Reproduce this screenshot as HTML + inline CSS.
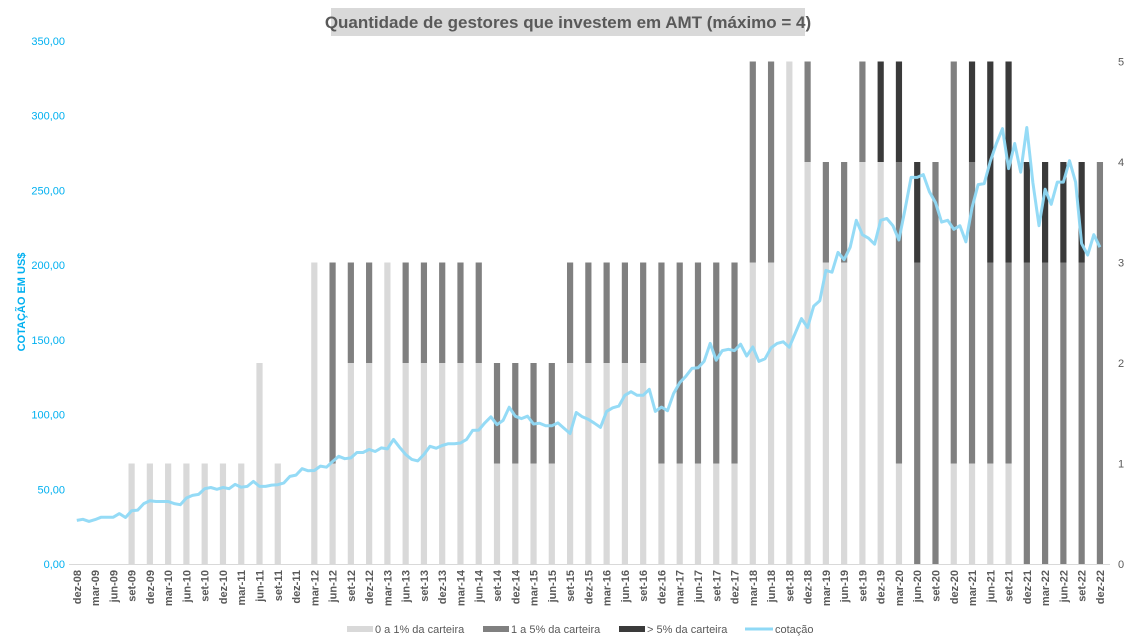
<!DOCTYPE html>
<html><head><meta charset="utf-8">
<style>
html,body{margin:0;padding:0;background:#fff;}
svg{display:block;font-family:"Liberation Sans",sans-serif;}
</style></head>
<body>
<svg id="chart" width="1138" height="643" viewBox="0 0 1138 643" xmlns="http://www.w3.org/2000/svg">
  <rect x="331" y="8" width="474" height="28" fill="#d9d9d9"/>
  <text x="568" y="28" text-anchor="middle" font-size="17" font-weight="bold" fill="#595959">Quantidade de gestores que investem em AMT (máximo = 4)</text>
  <text transform="translate(25,302) rotate(-90)" text-anchor="middle" font-size="11" font-weight="bold" fill="#00b0f0">COTAÇÃO EM US$</text>
  <g id="gridLayer"></g>
  <g id="barLayer"></g>
  <g id="lineLayer"></g>
  <g id="axisLayer"></g>
  <g id="legend">
    <rect x="347" y="626" width="26" height="6" fill="#d9d9d9"/>
    <text x="375" y="633" font-size="11" fill="#595959">0 a 1% da carteira</text>
    <rect x="483" y="626" width="26" height="6" fill="#808080"/>
    <text x="511" y="633" font-size="11" fill="#595959">1 a 5% da carteira</text>
    <rect x="619" y="626" width="26" height="6" fill="#3a3a3a"/>
    <text x="647" y="633" font-size="11" fill="#595959">&gt; 5% da carteira</text>
    <line x1="745" y1="629" x2="773" y2="629" stroke="#8fd9f6" stroke-width="3"/>
    <text x="775" y="633" font-size="11" fill="#595959">cotação</text>
  </g>
</svg>
<script>
const quarters = ["dez-08","mar-09","jun-09","set-09","dez-09","mar-10","jun-10","set-10","dez-10","mar-11","jun-11","set-11","dez-11","mar-12","jun-12","set-12","dez-12","mar-13","jun-13","set-13","dez-13","mar-14","jun-14","set-14","dez-14","mar-15","jun-15","set-15","dez-15","mar-16","jun-16","set-16","dez-16","mar-17","jun-17","set-17","dez-17","mar-18","jun-18","set-18","dez-18","mar-19","jun-19","set-19","dez-19","mar-20","jun-20","set-20","dez-20","mar-21","jun-21","set-21","dez-21","mar-22","jun-22","set-22","dez-22"];
const light = [0,0,0,1,1,1,1,1,1,1,2,1,0,3,1,2,2,3,2,2,2,2,2,1,1,1,1,2,2,2,2,2,1,1,1,1,1,3,3,5,4,3,3,4,4,1,0,0,1,1,1,1,0,0,0,0,0];
const mid = [0,0,0,0,0,0,0,0,0,0,0,0,0,0,2,1,1,0,1,1,1,1,1,1,1,1,1,1,1,1,1,1,2,2,2,2,2,2,2,0,1,1,1,1,0,3,3,4,4,3,2,2,3,3,3,3,4];
const dark = [0,0,0,0,0,0,0,0,0,0,0,0,0,0,0,0,0,0,0,0,0,0,0,0,0,0,0,0,0,0,0,0,0,0,0,0,0,0,0,0,0,0,0,0,1,1,1,0,0,1,2,2,1,1,1,1,0];
const price = [29.2,29.9,28.5,29.7,31.3,31.3,31.3,33.7,31.1,35.6,36.1,40.4,42.3,41.8,41.8,41.8,40.4,39.7,44.2,45.9,46.6,50.4,51.2,50,51.2,50.4,53.3,51.4,51.9,55.3,51.9,51.9,52.8,53.1,54.3,58.6,59.5,63.8,62.4,62.6,65.5,64.8,68.6,72.1,70.5,71,74.6,74.6,76.7,75.3,77.7,77,83.4,78.1,73.3,70,69,73.3,78.8,77.5,
79.3,80.5,80.5,81,83.4,89.4,89.6,94.4,98.5,93.2,96.1,104.9,98.9,97.3,98.9,93.7,94.2,92.5,92.5,94.4,90.8,87.3,101.4,98.5,96.8,94.2,91.4,102.1,104.5,105.7,112.9,115.3,112.9,112.9,116.9,102.1,105,102.6,114.1,121.3,125.6,130.9,131.3,135.6,147.6,136.4,142.8,143.7,142.8,147.1,139.2,145.2,135.6,137.3,144.7,147.6,
148.7,145.1,154.7,164.2,158.3,172.6,176.2,196.5,195.3,208.5,203.7,212,230,220.4,218,214,230,231.2,226.4,216.8,237.2,258.7,258.7,260.6,249.1,241.9,228.8,230,224,226.4,215.6,238.4,253.9,254.6,269.4,281.4,291.4,264.6,281.4,262.2,292.1,255.1,226.4,250.8,240.7,255.6,255.6,269.9,255.6,214.4,206.8,220.4,212];
const leftTicks = ["0,00","50,00","100,00","150,00","200,00","250,00","300,00","350,00"];
const rightTicks = ["0","1","2","3","4","5"];

const NS = "http://www.w3.org/2000/svg";
const X0 = 76.8, QSTEP = 18.27, Y0 = 564;
function xq(i){ return X0 + i*QSTEP; }
function xm(m){ return X0 + m*QSTEP/3; }
function yl(v){ return Y0 - v*(523/350); }
function yr(v){ return Y0 - v*(502.5/5); }
function mk(tag, attrs, parent){ const e=document.createElementNS(NS,tag); for(const k in attrs) e.setAttribute(k,attrs[k]); parent.appendChild(e); return e; }

const bars = document.getElementById('barLayer');
const BW = 6.2;
quarters.forEach((q,i)=>{
  let base = 0;
  const segs = [[light[i],'#d9d9d9','light'],[mid[i],'#808080','mid'],[dark[i],'#3a3a3a','dark']];
  segs.forEach(s=>{
    if(s[0]>0){
      const r = mk('rect',{x:xq(i)-BW/2,y:yr(base+s[0]),width:BW,height:yr(base)-yr(base+s[0]),fill:s[1]},bars);
      
      
      base += s[0];
    }
  });
});

const lineL = document.getElementById('lineLayer');
const pts = price.map((v,m)=>xm(m).toFixed(1)+','+yl(v).toFixed(1)).join(' ');
const pl = mk('polyline',{points:pts,fill:'none',stroke:'#8fd9f6','stroke-width':3,'stroke-linejoin':'round','stroke-opacity':0.95},lineL);



const ax = document.getElementById('axisLayer');
const base = mk('line',{x1:69,y1:Y0+0.5,x2:1110,y2:Y0+0.5,stroke:'#d9d9d9','stroke-width':1},ax);


leftTicks.forEach((t,i)=>{
  const e = mk('text',{x:65,y:yl(i*50)+4,'text-anchor':'end','font-size':11,fill:'#00b0f0'},ax);
  e.textContent = t;
  
  
});
rightTicks.forEach((t,i)=>{
  const e = mk('text',{x:1118,y:yr(i)+4,'font-size':11,fill:'#595959'},ax);
  e.textContent = t;
  
  
});
quarters.forEach((q,i)=>{
  const x = xq(i)+4;
  const e = mk('text',{x:x,y:570,transform:'rotate(-90 '+x+' 570)','text-anchor':'end','font-size':11,'font-weight':'bold',fill:'#595959'},ax);
  e.textContent = q;
  
  
});
</script>
</body></html>
